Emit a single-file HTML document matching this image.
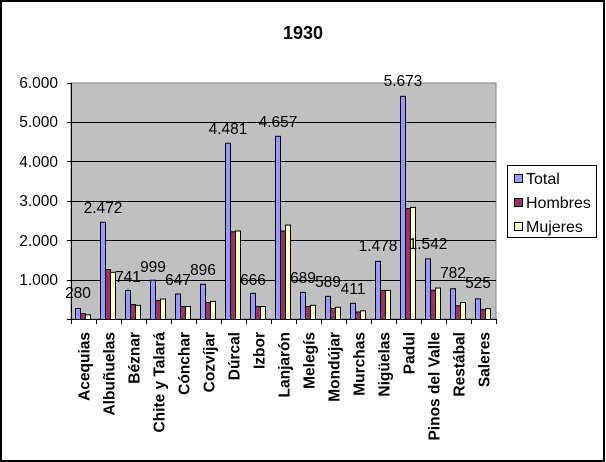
<!DOCTYPE html>
<html><head><meta charset="utf-8"><style>
html,body{margin:0;padding:0;background:#fff}
svg{display:block;font-family:"Liberation Sans",Arial,sans-serif}
</style></head><body>
<svg id="c" width="606" height="462" viewBox="0 0 606 462" xmlns="http://www.w3.org/2000/svg">
<rect x="0" y="0" width="606" height="462" fill="#fff"/>
<rect x="1" y="1" width="603" height="460" fill="none" stroke="#000" stroke-width="2"/>
<text x="303" y="39" font-size="18" font-weight="bold" text-anchor="middle">1930</text>
<rect x="71" y="83" width="425" height="236" fill="#c0c0c0" stroke="#808080" stroke-width="1"/>
<g stroke="#000" stroke-width="1">
<line x1="71" y1="280.5" x2="496" y2="280.5"/>
<line x1="71" y1="240.5" x2="496" y2="240.5"/>
<line x1="71" y1="201.5" x2="496" y2="201.5"/>
<line x1="71" y1="161.5" x2="496" y2="161.5"/>
<line x1="71" y1="122.5" x2="496" y2="122.5"/>
<line x1="71.5" y1="83" x2="71.5" y2="319"/>
<line x1="67" y1="319.5" x2="496" y2="319.5"/>
<line x1="67" y1="280.5" x2="71" y2="280.5"/>
<line x1="67" y1="240.5" x2="71" y2="240.5"/>
<line x1="67" y1="201.5" x2="71" y2="201.5"/>
<line x1="67" y1="161.5" x2="71" y2="161.5"/>
<line x1="67" y1="122.5" x2="71" y2="122.5"/>
<line x1="67" y1="83.5" x2="71" y2="83.5"/>
</g>
<g id="bars"></g>
<g font-size="15.5" text-anchor="end">
<text x="58" y="88">6.000</text>
<text x="58" y="127">5.000</text>
<text x="58" y="167">4.000</text>
<text x="58" y="206">3.000</text>
<text x="58" y="246">2.000</text>
<text x="58" y="285">1.000</text>
</g>
<g font-size="15.5" text-anchor="middle">
<text x="78" y="298">280</text>
<text x="103" y="213">2.472</text>
<text x="128" y="282">741</text>
<text x="153" y="272">999</text>
<text x="178" y="285">647</text>
<text x="203" y="275">896</text>
<text x="228" y="134">4.481</text>
<text x="253" y="285">666</text>
<text x="278" y="127">4.657</text>
<text x="303" y="283">689</text>
<text x="328" y="287">589</text>
<text x="353" y="294">411</text>
<text x="378" y="251">1.478</text>
<text x="403" y="86">5.673</text>
<text x="428" y="249">1.542</text>
<text x="453" y="278">782</text>
<text x="478" y="288">525</text>
</g>
<g font-size="15.5" font-weight="bold" text-anchor="end">
<text transform="translate(89.5,332) rotate(-90)">Acequias</text>
<text transform="translate(114.5,332) rotate(-90)">Albuñuelas</text>
<text transform="translate(139.5,332) rotate(-90)">Béznar</text>
<text transform="translate(164.5,332) rotate(-90)">Chite y Talará</text>
<text transform="translate(189.5,332) rotate(-90)">Cónchar</text>
<text transform="translate(214.5,332) rotate(-90)">Cozvíjar</text>
<text transform="translate(239.5,332) rotate(-90)">Dúrcal</text>
<text transform="translate(264.5,332) rotate(-90)">Izbor</text>
<text transform="translate(289.5,332) rotate(-90)">Lanjarón</text>
<text transform="translate(314.5,332) rotate(-90)">Melegís</text>
<text transform="translate(339.5,332) rotate(-90)">Mondújar</text>
<text transform="translate(364.5,332) rotate(-90)">Murchas</text>
<text transform="translate(389.5,332) rotate(-90)">Nigüelas</text>
<text transform="translate(414.5,332) rotate(-90)">Padul</text>
<text transform="translate(439.5,332) rotate(-90)">Pinos del Valle</text>
<text transform="translate(464.5,332) rotate(-90)">Restábal</text>
<text transform="translate(489.5,332) rotate(-90)">Saleres</text>
</g>
<rect x="507.5" y="165.5" width="89" height="72" fill="#fff" stroke="#000"/>
<rect x="514.5" y="174.5" width="8" height="8" fill="#9999ff" stroke="#000"/>
<rect x="514.5" y="198.5" width="8" height="8" fill="#993366" stroke="#000"/>
<rect x="514.5" y="222.5" width="8" height="8" fill="#ffffcc" stroke="#000"/>
<g font-size="16">
<text x="526" y="184">Total</text>
<text x="526" y="208">Hombres</text>
<text x="526" y="232">Mujeres</text>
</g>
</svg>
<script>
var T=[280,2472,741,999,647,896,4481,666,4657,689,589,411,1478,5673,1542,782,525];
var H=[150,1270,380,480,330,430,2230,330,2250,330,280,190,740,2820,740,350,250];
var M=[120,1200,360,520,330,460,2250,330,2400,360,310,220,740,2850,800,430,275];
var g=document.getElementById('bars'),s='';
var cols=['#9999ff','#993366','#ffffcc'];
for(var i=0;i<17;i++){var x0=71+25*i+4;[T,H,M].forEach(function(a,j){var h=a[i]*236/6000;
s+='<rect x="'+(x0+5*j+0.5)+'" y="'+(319.5-h)+'" width="5" height="'+h+'" fill="'+cols[j]+'" stroke="#000" stroke-width="1"/>';});
s+='<line x1="'+(71.5+25*(i+1))+'" y1="319" x2="'+(71.5+25*(i+1))+'" y2="324" stroke="#000"/>';}
s+='<line x1="71.5" y1="319" x2="71.5" y2="324" stroke="#000"/>';
g.innerHTML=s;
</script>
</body></html>
